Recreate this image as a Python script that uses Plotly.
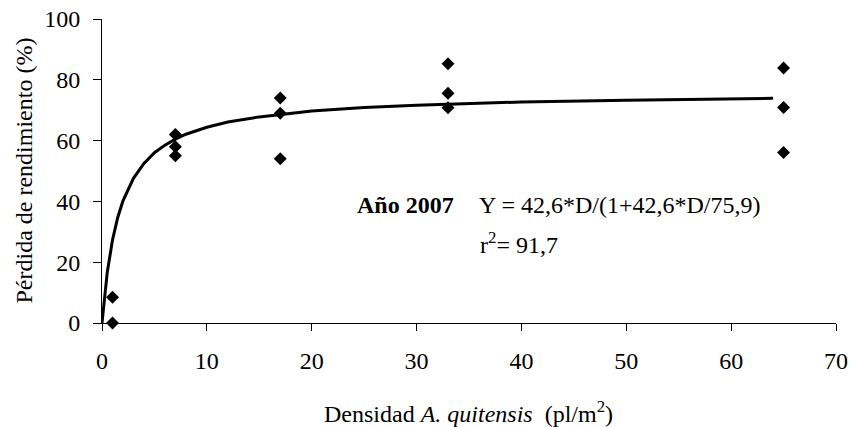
import plotly.graph_objects as go

# Observed data points
density = [1, 1, 7, 7, 7, 17, 17, 17, 33, 33, 33, 65, 65, 65]
loss = [0, 8.5, 62, 58, 55, 74, 69, 54, 85.3, 75.6, 70.8, 83.9, 70.9, 56.1]

# Fitted curve points
curve_x = [0, 0.5, 1, 1.5, 2, 3, 4, 5, 6, 7, 8, 10, 12, 15, 20, 25, 30, 40, 50, 64]
curve_y = [0, 16.6, 27.3, 34.7, 40.2, 47.6, 52.5, 56.0, 58.5, 60.5, 62.1, 64.4,
           66.1, 67.8, 69.7, 70.9, 71.6, 72.7, 73.3, 73.9]

x_ticks = [0, 10, 20, 30, 40, 50, 60, 70]
y_ticks = [0, 20, 40, 60, 80, 100]

FONT = "Liberation Serif"
FS = 24

# plot-area geometry (pixels) used to place the text annotations
L, R, T, B = 101.5, 835.7, 19.3, 323.5
PW, PH = R - L, B - T

fig = go.Figure()
fig.add_trace(go.Scatter(x=curve_x, y=curve_y, mode="lines",
                         line=dict(color="black", width=3), cliponaxis=False,
                         showlegend=False, hoverinfo="skip"))
fig.add_trace(go.Scatter(x=density, y=loss, mode="markers",
                         marker=dict(symbol="diamond", size=10, color="black"),
                         cliponaxis=False, showlegend=False))

fig.update_layout(
    width=851, height=427,
    margin=dict(l=L, r=851 - R, t=T, b=427 - B, autoexpand=False),
    paper_bgcolor="white", plot_bgcolor="white",
    font=dict(family=FONT, size=FS, color="black"),
    xaxis=dict(range=[0, 70], tickvals=x_ticks, showgrid=False, zeroline=False,
               showline=True, linecolor="black", linewidth=1,
               ticks="outside", ticklen=7, tickcolor="black", tickwidth=1,
               ticklabelstandoff=9,
               tickfont=dict(family=FONT, size=FS)),
    yaxis=dict(range=[0, 100], tickvals=y_ticks, showgrid=False, zeroline=False,
               showline=True, linecolor="black", linewidth=1,
               ticks="outside", ticklen=8, tickcolor="black", tickwidth=1,
               ticklabelstandoff=8,
               tickfont=dict(family=FONT, size=FS)),
    annotations=[
        dict(text="Densidad <i>A. quitensis</i>  (pl/m<sup>2</sup>)", xref="paper", yref="paper",
             x=(468 - L) / PW, y=-(413 - B) / PH, xanchor="center", yanchor="middle",
             showarrow=False, font=dict(family=FONT, size=FS)),
        dict(text="Pérdida de rendimiento (%)", xref="paper", yref="paper",
             x=-(L - 23) / PW, y=0.5, xanchor="center", yanchor="middle",
             textangle=-90, showarrow=False, font=dict(family=FONT, size=FS)),
        dict(text="<b>Año 2007</b>", xref="paper", yref="paper",
             x=(355 - L) / PW, y=(B - 205) / PH, xanchor="left", yanchor="middle",
             showarrow=False, font=dict(family=FONT, size=FS)),
        dict(text="Y = 42,6*D/(1+42,6*D/75,9)", xref="paper", yref="paper",
             x=(477 - L) / PW, y=(B - 205) / PH, xanchor="left", yanchor="middle",
             showarrow=False, font=dict(family=FONT, size=FS)),
        dict(text="r<sup>2</sup>= 91,7", xref="paper", yref="paper",
             x=(478 - L) / PW, y=(B - 243) / PH, xanchor="left", yanchor="middle",
             showarrow=False, font=dict(family=FONT, size=FS)),
    ],
)

fig.write_html("out.html")
